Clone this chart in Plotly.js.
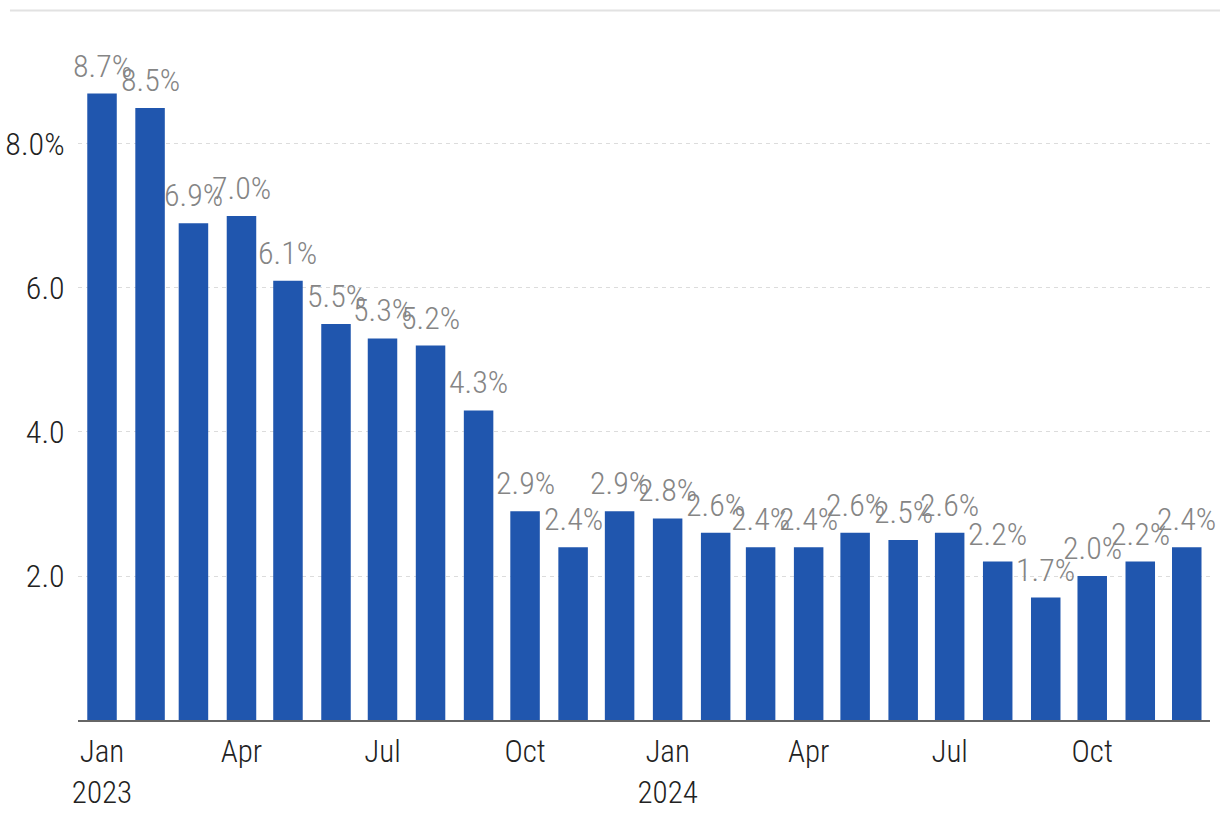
<!DOCTYPE html>
<html>
<head>
<meta charset="utf-8">
<script src="https://cdn.plot.ly/plotly-3.0.1.min.js"></script>
<style>html,body{margin:0;padding:0;background:#fff;}#chart{width:1220px;height:830px;}</style>
</head>
<body>
<div id="chart"></div>
<script>
const months = ['2023-01-01','2023-02-01','2023-03-01','2023-04-01','2023-05-01','2023-06-01',
  '2023-07-01','2023-08-01','2023-09-01','2023-10-01','2023-11-01','2023-12-01',
  '2024-01-01','2024-02-01','2024-03-01','2024-04-01','2024-05-01','2024-06-01',
  '2024-07-01','2024-08-01','2024-09-01','2024-10-01','2024-11-01','2024-12-01'];
const values = [8.7,8.5,6.9,7.0,6.1,5.5,5.3,5.2,4.3,2.9,2.4,2.9,2.8,2.6,2.4,2.4,2.6,2.5,2.6,2.2,1.7,2.0,2.2,2.4];
const xTickVals = ['2023-01-01','2023-04-01','2023-07-01','2023-10-01','2024-01-01','2024-04-01','2024-07-01','2024-10-01'];
const xTickText = ['Jan<br>2023','Apr','Jul','Oct','Jan<br>2024','Apr','Jul','Oct'];
const yTickVals = [2,4,6,8];
const yTickText = ['2.0','4.0','6.0','8.0%'];

const FONT = 'Roboto Condensed, Liberation Sans Narrow, Arial Narrow, DejaVu Sans Condensed, Roboto, sans-serif';

const annotations = months.map((m, i) => ({
  x: m, y: values[i], xref: 'x', yref: 'y',
  text: values[i].toFixed(1) + '%',
  showarrow: false, yanchor: 'bottom', xanchor: 'center', yshift: 7,
  font: {family: FONT, size: 32, color: '#858585', weight: 300}
}));

const trace = {
  type: 'bar', x: months, y: values,
  marker: {color: '#2056ae'},
  hoverinfo: 'skip'
};

const layout = {
  width: 1220, height: 830,
  margin: {l: 78, r: 10, t: 11, b: 110},
  paper_bgcolor: '#fff', plot_bgcolor: '#fff',
  bargap: 0.32,
  showlegend: false,
  font: {family: FONT, size: 31, color: '#222', weight: 300},
  xaxis: {
    type: 'date',
    range: ['2022-12-16 12:00', '2024-12-16'],
    tickvals: xTickVals, ticktext: xTickText,
    showgrid: false, zeroline: false,
    showline: true, linecolor: '#666', linewidth: 2,
    ticks: 'outside', ticklen: 3, tickcolor: 'rgba(0,0,0,0)',
    tickfont: {family: FONT, size: 31, color: '#222', weight: 300}
  },
  yaxis: {
    range: [0, 9.847],
    tickvals: yTickVals, ticktext: yTickText,
    showgrid: true, gridcolor: '#dcdcdc', gridwidth: 1, griddash: '4px,4px',
    zeroline: false, showline: false,
    ticks: 'outside', ticklen: 6, tickcolor: 'rgba(0,0,0,0)',
    tickfont: {family: FONT, size: 32, color: '#222', weight: 300}
  },
  shapes: [{
    type: 'line', xref: 'paper', yref: 'paper',
    x0: -0.0601, x1: 1.01, y0: 1.0007, y1: 1.0007,
    line: {color: '#e2e2e2', width: 2}
  }],
  annotations: annotations
};

Plotly.newPlot('chart', [trace], layout, {displayModeBar: false, staticPlot: true});
</script>
</body>
</html>
